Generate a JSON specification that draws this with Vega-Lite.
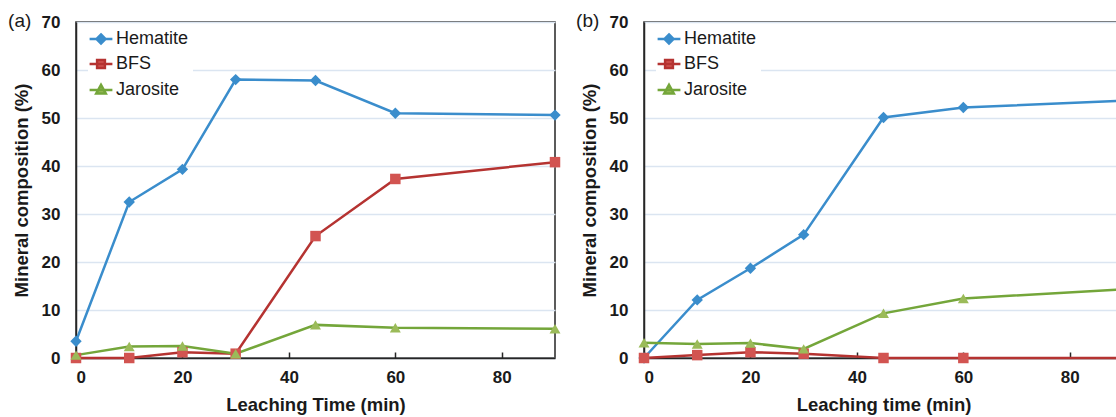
{
  "$schema": "https://vega.github.io/schema/vega-lite/v6.json",
  "autosize": {"type": "pad"},
  "padding": {"left": 7, "top": 11, "right": 0, "bottom": 0},
  "background": "white",
  "config": {
    "font": "Liberation Sans",
    "view": {"stroke": "#262626", "strokeWidth": 1.5},
    "axis": {
      "labelFont": "Liberation Sans", "labelFontWeight": "bold", "labelFontSize": 17, "labelColor": "#1a1a1a",
      "titleFont": "Liberation Sans", "titleFontWeight": "bold", "titleFontSize": 18.5, "titleColor": "#1a1a1a",
      "domainColor": "#262626", "domainWidth": 1.5, "tickColor": "#262626", "tickWidth": 1.5,
      "gridColor": "#dbe5f1", "gridWidth": 1.5, "gridOpacity": 1
    },
    "axisX": {"tickSize": -6, "labelPadding": 17, "titlePadding": 10, "grid": false},
    "axisY": {"ticks": false, "labelPadding": 16, "titlePadding": 10, "grid": true},
    "legend": {"labelFont": "Liberation Sans", "labelFontSize": 18, "labelColor": "#1a1a1a", "fillColor": "white", "padding": 4, "rowPadding": 6, "labelOffset": 6, "symbolSize": 144, "symbolStrokeWidth": 2.5, "symbolOpacity": 1}
  },
  "datasets": {
    "d": [
      {"panel": "a", "series": "Hematite", "t": 0, "v": 3.5},
      {"panel": "a", "series": "Hematite", "t": 10, "v": 32.5},
      {"panel": "a", "series": "Hematite", "t": 20, "v": 39.3},
      {"panel": "a", "series": "Hematite", "t": 30, "v": 58.0},
      {"panel": "a", "series": "Hematite", "t": 45, "v": 57.8},
      {"panel": "a", "series": "Hematite", "t": 60, "v": 51.0},
      {"panel": "a", "series": "Hematite", "t": 90, "v": 50.6},
      {"panel": "a", "series": "BFS", "t": 0, "v": 0},
      {"panel": "a", "series": "BFS", "t": 10, "v": 0},
      {"panel": "a", "series": "BFS", "t": 20, "v": 1.2},
      {"panel": "a", "series": "BFS", "t": 30, "v": 0.9},
      {"panel": "a", "series": "BFS", "t": 45, "v": 25.4},
      {"panel": "a", "series": "BFS", "t": 60, "v": 37.3},
      {"panel": "a", "series": "BFS", "t": 90, "v": 40.8},
      {"panel": "a", "series": "Jarosite", "t": 0, "v": 0.6},
      {"panel": "a", "series": "Jarosite", "t": 10, "v": 2.4},
      {"panel": "a", "series": "Jarosite", "t": 20, "v": 2.5},
      {"panel": "a", "series": "Jarosite", "t": 30, "v": 0.9},
      {"panel": "a", "series": "Jarosite", "t": 45, "v": 6.9},
      {"panel": "a", "series": "Jarosite", "t": 60, "v": 6.3},
      {"panel": "a", "series": "Jarosite", "t": 90, "v": 6.1},
      {"panel": "b", "series": "Hematite", "t": 0, "v": 0},
      {"panel": "b", "series": "Hematite", "t": 10, "v": 12.1},
      {"panel": "b", "series": "Hematite", "t": 20, "v": 18.7},
      {"panel": "b", "series": "Hematite", "t": 30, "v": 25.7},
      {"panel": "b", "series": "Hematite", "t": 45, "v": 50.1},
      {"panel": "b", "series": "Hematite", "t": 60, "v": 52.2},
      {"panel": "b", "series": "Hematite", "t": 90, "v": 53.6},
      {"panel": "b", "series": "BFS", "t": 0, "v": 0},
      {"panel": "b", "series": "BFS", "t": 10, "v": 0.6},
      {"panel": "b", "series": "BFS", "t": 20, "v": 1.2},
      {"panel": "b", "series": "BFS", "t": 30, "v": 0.9},
      {"panel": "b", "series": "BFS", "t": 45, "v": 0},
      {"panel": "b", "series": "BFS", "t": 60, "v": 0},
      {"panel": "b", "series": "BFS", "t": 90, "v": 0},
      {"panel": "b", "series": "Jarosite", "t": 0, "v": 3.2},
      {"panel": "b", "series": "Jarosite", "t": 10, "v": 2.9},
      {"panel": "b", "series": "Jarosite", "t": 20, "v": 3.1},
      {"panel": "b", "series": "Jarosite", "t": 30, "v": 1.9},
      {"panel": "b", "series": "Jarosite", "t": 45, "v": 9.3},
      {"panel": "b", "series": "Jarosite", "t": 60, "v": 12.4},
      {"panel": "b", "series": "Jarosite", "t": 90, "v": 14.3}
    ]
  },
  "data": {"name": "d"},
  "spacing": 13,
  "resolve": {
    "scale": {"fill": "independent", "stroke": "independent", "shape": "independent"},
    "legend": {"fill": "independent", "stroke": "independent", "shape": "independent"}
  },
  "hconcat": [
    {
      "title": {"text": "(a)", "fontSize": 19, "fontWeight": "normal", "font": "Liberation Sans", "color": "#1a1a1a", "anchor": "start", "frame": "bounds", "baseline": "alphabetic", "offset": 0, "dy": 33, "dx": -4},
      "width": 479,
      "height": 336,
      "transform": [{"filter": "datum.panel === 'a'"}],
      "encoding": {
        "x": {"field": "t", "type": "quantitative", "scale": {"domain": [0, 90], "nice": false}, "axis": {"values": [0, 20, 40, 60, 80], "title": "Leaching Time (min)"}},
        "y": {"field": "v", "type": "quantitative", "scale": {"domain": [0, 70], "nice": false}, "axis": {"values": [0, 10, 20, 30, 40, 50, 60, 70], "title": "Mineral composition (%)"}}
      },
      "layer": [
        {"transform": [{"filter": "datum.series === 'Hematite'"}], "mark": {"type": "line", "strokeWidth": 2.5, "color": "#3a8dcc"}},
        {"transform": [{"filter": "datum.series === 'BFS'"}], "mark": {"type": "line", "strokeWidth": 2.5, "color": "#b53331"}},
        {"transform": [{"filter": "datum.series === 'Jarosite'"}], "mark": {"type": "line", "strokeWidth": 2.5, "color": "#74a63a"}},
        {"transform": [{"filter": "datum.series === 'Hematite'"}], "mark": {"type": "point", "shape": "diamond", "filled": true, "size": 130, "color": "#3a8dcc", "opacity": 1}},
        {"transform": [{"filter": "datum.series === 'BFS'"}], "mark": {"type": "point", "shape": "square", "filled": true, "size": 110, "color": "#d25451", "opacity": 1}},
        {"transform": [{"filter": "datum.series === 'Jarosite'"}], "mark": {"type": "point", "shape": "triangle-up", "filled": true, "size": 120, "color": "#9bbb59", "opacity": 1}},
        {
          "transform": [{"filter": "datum.t < 0"}],
          "mark": {"type": "point", "filled": true, "strokeWidth": 2.5, "opacity": 1},
          "encoding": {
            "fill": {"field": "series", "type": "nominal", "scale": {"domain": ["Hematite", "BFS", "Jarosite"], "range": ["#3a8dcc", "#d25451", "#9bbb59"]}, "legend": {"title": null, "orient": "none", "legendX": 12, "legendY": 4}},
            "stroke": {"field": "series", "type": "nominal", "scale": {"domain": ["Hematite", "BFS", "Jarosite"], "range": ["#3a8dcc", "#b53331", "#74a63a"]}, "legend": {"title": null, "orient": "none", "legendX": 12, "legendY": 4}},
            "shape": {"field": "series", "type": "nominal", "scale": {"domain": ["Hematite", "BFS", "Jarosite"], "range": ["M-1.9,0H1.9M0,-0.75L0.75,0L0,0.75L-0.75,0Z", "M-1.9,0H1.9M-0.65,-0.65H0.65V0.65H-0.65Z", "M-1.9,0H1.9M0,-0.85L0.8,0.6H-0.8Z"]}, "legend": {"title": null, "orient": "none", "legendX": 12, "legendY": 4}}
          }
        }
      ]
    },
    {
      "title": {"text": "(b)", "fontSize": 19, "fontWeight": "normal", "font": "Liberation Sans", "color": "#1a1a1a", "anchor": "start", "frame": "bounds", "baseline": "alphabetic", "offset": 0, "dy": 33, "dx": -4},
      "width": 479,
      "height": 336,
      "transform": [{"filter": "datum.panel === 'b'"}],
      "encoding": {
        "x": {"field": "t", "type": "quantitative", "scale": {"domain": [0, 90], "nice": false}, "axis": {"values": [0, 20, 40, 60, 80], "title": "Leaching time (min)"}},
        "y": {"field": "v", "type": "quantitative", "scale": {"domain": [0, 70], "nice": false}, "axis": {"values": [0, 10, 20, 30, 40, 50, 60, 70], "title": "Mineral composition (%)"}}
      },
      "layer": [
        {"transform": [{"filter": "datum.series === 'Hematite'"}], "mark": {"type": "line", "strokeWidth": 2.5, "color": "#3a8dcc"}},
        {"transform": [{"filter": "datum.series === 'BFS'"}], "mark": {"type": "line", "strokeWidth": 2.5, "color": "#b53331"}},
        {"transform": [{"filter": "datum.series === 'Jarosite'"}], "mark": {"type": "line", "strokeWidth": 2.5, "color": "#74a63a"}},
        {"transform": [{"filter": "datum.series === 'Hematite'"}], "mark": {"type": "point", "shape": "diamond", "filled": true, "size": 130, "color": "#3a8dcc", "opacity": 1}},
        {"transform": [{"filter": "datum.series === 'BFS'"}], "mark": {"type": "point", "shape": "square", "filled": true, "size": 110, "color": "#d25451", "opacity": 1}},
        {"transform": [{"filter": "datum.series === 'Jarosite'"}], "mark": {"type": "point", "shape": "triangle-up", "filled": true, "size": 120, "color": "#9bbb59", "opacity": 1}},
        {
          "transform": [{"filter": "datum.t < 0"}],
          "mark": {"type": "point", "filled": true, "strokeWidth": 2.5, "opacity": 1},
          "encoding": {
            "fill": {"field": "series", "type": "nominal", "scale": {"domain": ["Hematite", "BFS", "Jarosite"], "range": ["#3a8dcc", "#d25451", "#9bbb59"]}, "legend": {"title": null, "orient": "none", "legendX": 12, "legendY": 4}},
            "stroke": {"field": "series", "type": "nominal", "scale": {"domain": ["Hematite", "BFS", "Jarosite"], "range": ["#3a8dcc", "#b53331", "#74a63a"]}, "legend": {"title": null, "orient": "none", "legendX": 12, "legendY": 4}},
            "shape": {"field": "series", "type": "nominal", "scale": {"domain": ["Hematite", "BFS", "Jarosite"], "range": ["M-1.9,0H1.9M0,-0.75L0.75,0L0,0.75L-0.75,0Z", "M-1.9,0H1.9M-0.65,-0.65H0.65V0.65H-0.65Z", "M-1.9,0H1.9M0,-0.85L0.8,0.6H-0.8Z"]}, "legend": {"title": null, "orient": "none", "legendX": 12, "legendY": 4}}
          }
        }
      ]
    }
  ]
}
